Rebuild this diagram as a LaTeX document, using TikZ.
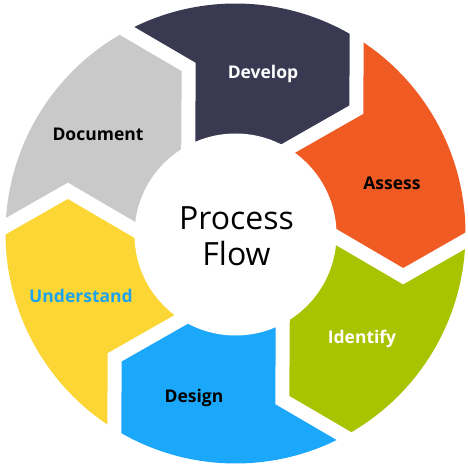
\documentclass[tikz,border=0pt]{standalone}
\usepackage{fontspec}
\setmainfont{Open Sans}
\usetikzlibrary{calc}
\definecolor{cDevelop}{RGB}{58,57,82}
\definecolor{cAssess}{RGB}{240,90,35}
\definecolor{cIdentify}{RGB}{168,196,0}
\definecolor{cDesign}{RGB}{27,168,250}
\definecolor{cUnderstand}{RGB}{252,214,52}
\definecolor{cDocument}{RGB}{201,201,201}
\definecolor{cUtext}{RGB}{30,162,238}
\newcommand{\ringseg}[3]{%
  \fill[#1] (#2:230) arc[start angle=#2, end angle=#3, radius=230]
    -- (#3-12.5:173) -- (#3:100) -- (0,0) -- (#2:100) -- (#2-12.5:173) -- cycle;}
\newcommand{\ringgap}[1]{%
  \coordinate (o) at (#1:230);
  \coordinate (t) at (#1-12.5:173);
  \coordinate (i) at (#1:100);
  \draw[gapline] ($(t)!1.3!(o)$) -- (t) -- ($(t)!1.4!(i)$);}
\begin{document}
\begin{tikzpicture}[x=1pt,y=1pt,
  gapline/.style={white,line width=14pt,line join=miter},
  lbl/.style={font=\fontsize{17.5}{20}\selectfont\bfseries}]
\useasboundingbox[fill=white] (-235.5,-234.5) rectangle (232.5,233.5);
\ringseg{cDevelop}{118.2}{58.2}
\ringseg{cAssess}{58.2}{-1.8}
\ringseg{cIdentify}{-1.8}{-61.8}
\ringseg{cDesign}{-61.8}{-121.8}
\ringseg{cUnderstand}{-121.8}{-181.8}
\ringseg{cDocument}{178.2}{118.2}
\ringgap{118.2}
\ringgap{58.2}
\ringgap{-1.8}
\ringgap{-61.8}
\ringgap{-121.8}
\ringgap{178.2}
\fill[white] (0,-1) circle[radius=101];
\node[lbl,text=white] (develop) at (27.5,160) {Develop};
\node[lbl,text=black] (assess) at (156.5,50) {Assess};
\node[lbl,text=white] (identify) at (126.5,-105) {Identify};
\node[lbl,text=black] (design) at (-41.5,-164) {Design};
\node[lbl,text=cUtext] (understand) at (-154.5,-62) {Understand};
\node[lbl,text=black] (document) at (-137.5,99) {Document};
\node[font=\fontsize{32}{36}\selectfont,align=center] (center) at (1,-3) {Process\\Flow};
\end{tikzpicture}
\end{document}
